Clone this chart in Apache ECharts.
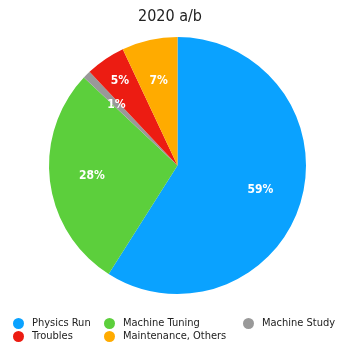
<!DOCTYPE html>
<html>
<head>
<meta charset="utf-8">
<script src="https://cdn.jsdelivr.net/npm/echarts@6/dist/echarts.min.js"></script>
<style>
  html, body { margin: 0; padding: 0; background: #fff; }
  #chart { width: 340px; height: 344px; }
</style>
</head>
<body>
<div id="chart"></div>
<script>
// Share of operating time, 2020 a/b (percent)
const titleText = '2020 a/b';
const categories = ['Physics Run', 'Machine Tuning', 'Machine Study', 'Troubles', 'Maintenance, Others'];
const shares = [59, 28, 1, 5, 7];
const colors = ['#0aa2ff', '#5ccf3c', '#999999', '#ec1c12', '#ffab00'];

// Legend columns
const legendCol1 = ['Physics Run', 'Troubles'];
const legendCol2 = ['Machine Tuning', 'Maintenance, Others'];
const legendCol3 = ['Machine Study'];

// The Troubles label sits further out than the others
const outerLabelNames = ['Troubles'];

const FONT = '"DejaVu Sans Condensed", "DejaVu Sans", sans-serif';
const CENTER = [177.5, 165.5];
const R = 128.5;

const sliceData = categories.map((name, i) => ({
  name,
  value: shares[i],
  itemStyle: { color: colors[i] }
}));

// Transparent label rings: same slices, labels sit at the middle of each ring
function ringData(showOuter) {
  return categories.map((name, i) => ({
    name,
    value: shares[i],
    label: { show: outerLabelNames.includes(name) === showOuter }
  }));
}

const labelStyle = {
  show: true,
  position: 'inside',
  formatter: '{d}%',
  fontFamily: FONT,
  fontSize: 12,
  fontWeight: 'bold',
  color: '#fff'
};

function labelRing(radius, showOuter) {
  return {
    type: 'pie',
    center: CENTER,
    radius,
    startAngle: 90,
    clockwise: true,
    silent: true,
    itemStyle: { color: 'rgba(0,0,0,0)', borderWidth: 0 },
    label: labelStyle,
    labelLine: { show: false },
    data: ringData(showOuter)
  };
}

function legend(data, left) {
  return {
    data,
    orient: 'vertical',
    left,
    top: 318,
    padding: 0,
    icon: 'circle',
    itemWidth: 17,
    itemHeight: 11,
    itemGap: 2,
    textStyle: { fontFamily: FONT, fontSize: 11, color: '#222', lineHeight: 11 }
  };
}

const chart = echarts.init(document.getElementById('chart'), null, { renderer: 'canvas' });
chart.setOption({
  animation: false,
  title: {
    text: titleText,
    left: 'center',
    top: 4,
    textStyle: { fontFamily: FONT, fontSize: 16, fontWeight: 'normal', color: '#222' }
  },
  legend: [legend(legendCol1, 13), legend(legendCol2, 104), legend(legendCol3, 243)],
  series: [
    {
      type: 'pie',
      center: CENTER,
      radius: [0, R],
      startAngle: 90,
      clockwise: true,
      silent: true,
      label: { show: false },
      labelLine: { show: false },
      itemStyle: { borderWidth: 0 },
      data: sliceData
    },
    labelRing([38, R], false),
    labelRing([70, R], true)
  ]
});
</script>
</body>
</html>
